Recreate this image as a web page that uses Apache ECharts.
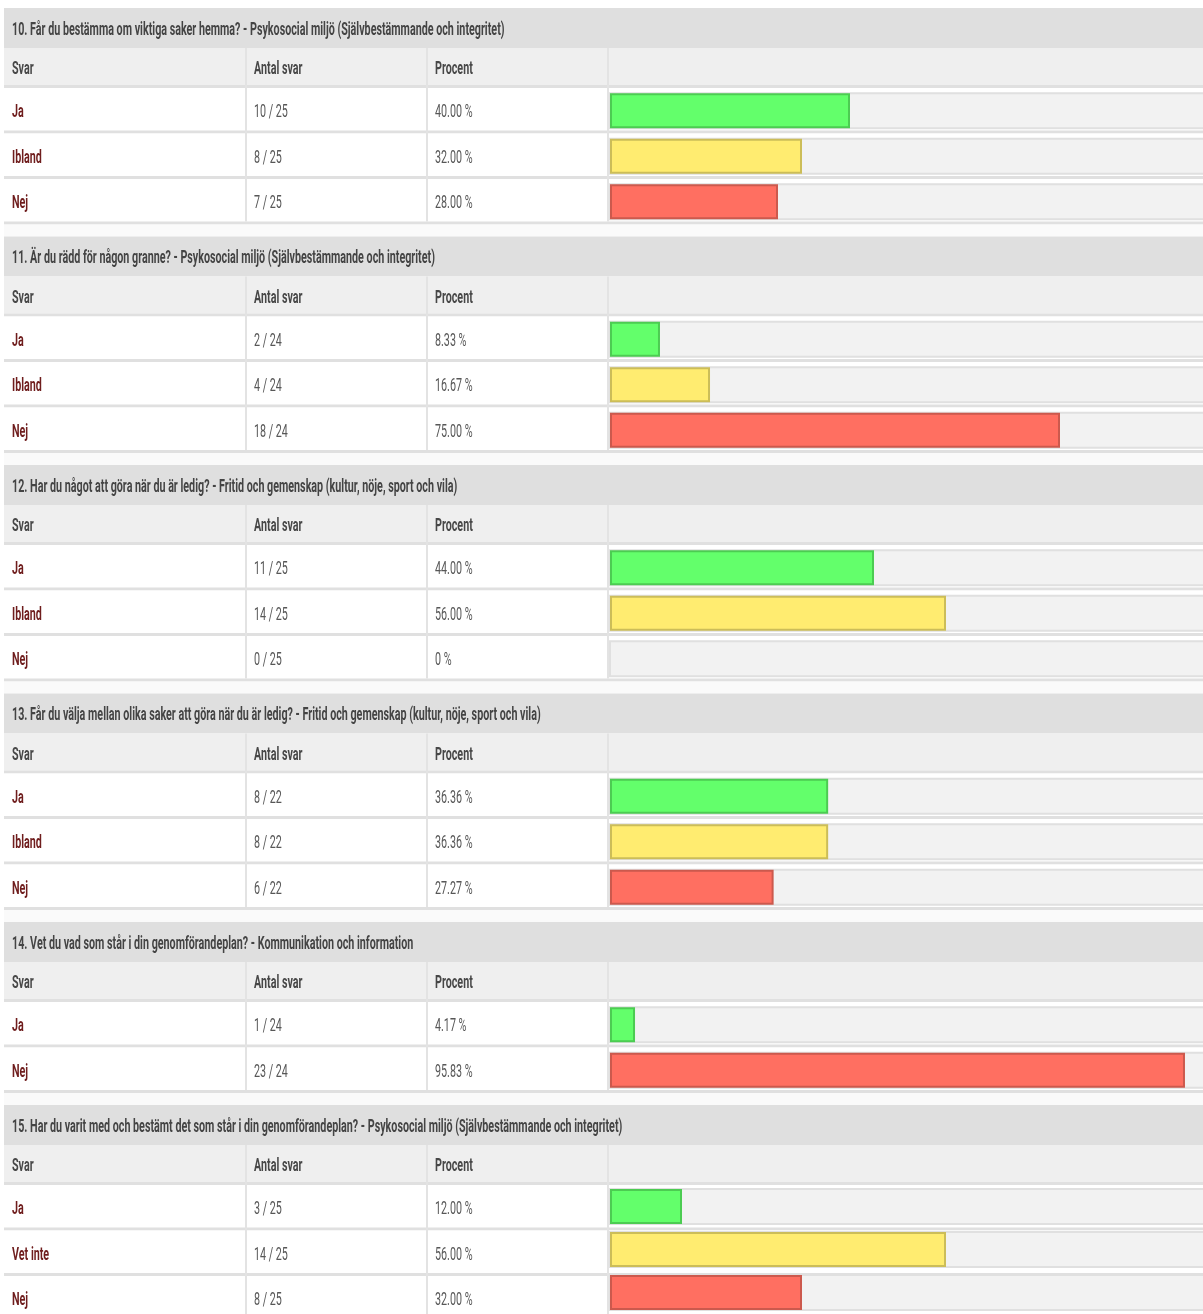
<!DOCTYPE html>
<html>
<head>
<meta charset="utf-8">
<script src="https://cdn.jsdelivr.net/npm/echarts@6/dist/echarts.min.js"></script>
<style>
html,body{margin:0;padding:0;background:#fff;overflow:hidden;}
#chart{width:1220px;height:1314px;}
</style>
</head>
<body>
<div id="chart"></div>
<script>
// ---- data ----
const columnHeaders = ["Svar", "Antal svar", "Procent"];

const titles = [
  "10. Får du bestämma om viktiga saker hemma? - Psykosocial miljö (Självbestämmande och integritet)",
  "11. Är du rädd för någon granne? - Psykosocial miljö (Självbestämmande och integritet)",
  "12. Har du något att göra när du är ledig? - Fritid och gemenskap (kultur, nöje, sport och vila)",
  "13. Får du välja mellan olika saker att göra när du är ledig? - Fritid och gemenskap (kultur, nöje, sport och vila)",
  "14. Vet du vad som står i din genomförandeplan? - Kommunikation och information",
  "15. Har du varit med och bestämt det som står i din genomförandeplan? - Psykosocial miljö (Självbestämmande och integritet)"
];

const q10Answers = ["Ja", "Ibland", "Nej"];
const q10Counts = [10, 8, 7];
const q10Total = 25;
const q10Percent = [40.00, 32.00, 28.00];

const q11Answers = ["Ja", "Ibland", "Nej"];
const q11Counts = [2, 4, 18];
const q11Total = 24;
const q11Percent = [8.33, 16.67, 75.00];

const q12Answers = ["Ja", "Ibland", "Nej"];
const q12Counts = [11, 14, 0];
const q12Total = 25;
const q12Percent = [44.00, 56.00, 0];

const q13Answers = ["Ja", "Ibland", "Nej"];
const q13Counts = [8, 8, 6];
const q13Total = 22;
const q13Percent = [36.36, 36.36, 27.27];

const q14Answers = ["Ja", "Nej"];
const q14Counts = [1, 23];
const q14Total = 24;
const q14Percent = [4.17, 95.83];

const q15Answers = ["Ja", "Vet inte", "Nej"];
const q15Counts = [3, 14, 8];
const q15Total = 25;
const q15Percent = [12.00, 56.00, 32.00];

// ---- styling ----
const FILL = {"Ja": "#63ff6b", "Ibland": "#ffec70", "Vet inte": "#ffec70", "Nej": "#ff6f61"};
const EDGE = {"Ja": "#4ccc52", "Ibland": "#ccbd58", "Vet inte": "#ccbd58", "Nej": "#cc594d"};

const sections = [
  [titles[0], q10Answers, q10Counts, q10Total, q10Percent],
  [titles[1], q11Answers, q11Counts, q11Total, q11Percent],
  [titles[2], q12Answers, q12Counts, q12Total, q12Percent],
  [titles[3], q13Answers, q13Counts, q13Total, q13Percent],
  [titles[4], q14Answers, q14Counts, q14Total, q14Percent],
  [titles[5], q15Answers, q15Counts, q15Total, q15Percent]
];

(function () {
  const FONT = "Roboto, 'Liberation Sans', sans-serif";
  const SX = 0.565;         // horizontal condensing of the text
  const FS = 19;
  const TABLE_X = 4, TABLE_W = 1216;
  const COL_X = [12, 254, 435];
  const DIV_X = [245, 426, 607];
  const TITLE_H = 40, HEAD_H = 37, SEP = 3, ROW = 45.5, GAP = 12;
  const BAR_LEFT = 610, BAR_FULL = 600;

  const graphics = [];
  const grids = [], xAxes = [], yAxes = [], series = [];

  function rect(x, y, w, h, fill, z) {
    graphics.push({type: 'rect', silent: true, z: z || 0, shape: {x: x, y: y, width: w, height: h}, style: {fill: fill}});
  }
  function text(x, y, str, color, weight) {
    graphics.push({type: 'text', silent: true, z: 5, x: x, y: y, scaleX: SX,
      style: {text: str, fill: color, fontSize: FS, fontFamily: FONT, fontWeight: weight, verticalAlign: 'middle', align: 'left'}});
  }

  let curTop = 8;
  sections.forEach(function (s, k) {
    const title = s[0], answers = s[1], counts = s[2], total = s[3], pct = s[4];
    const n = answers.length;
    const rowsTop = curTop + TITLE_H + HEAD_H + SEP;
    const end = rowsTop + n * ROW;

    rect(TABLE_X, curTop, TABLE_W, TITLE_H, '#dfdfdf');
    text(COL_X[0], curTop + TITLE_H / 2 + 2, title, '#444444', 'bold');
    rect(TABLE_X, curTop + TITLE_H, TABLE_W, HEAD_H, '#efefef');
    rect(TABLE_X, curTop + TITLE_H + HEAD_H, TABLE_W, SEP, '#e0e0e0');
    columnHeaders.forEach(function (h, c) {
      text(COL_X[c], curTop + TITLE_H + HEAD_H / 2 + 3, h, '#474747', 'bold');
    });
    answers.forEach(function (a, i) {
      const ry = rowsTop + i * ROW;
      rect(TABLE_X, ry, TABLE_W, ROW - SEP, '#ffffff');
      rect(TABLE_X, ry + ROW - SEP, TABLE_W, SEP, '#e0e0e0');
      const cy = ry + (ROW - SEP) / 2 + 3;
      text(COL_X[0], cy, a, '#6f1d1d', 'bold');
      text(COL_X[1], cy, counts[i] + ' / ' + total, '#575757', 'normal');
      text(COL_X[2], cy, (pct[i] === 0 ? '0' : pct[i].toFixed(2)) + ' %', '#575757', 'normal');
    });
    DIV_X.forEach(function (x) {
      rect(x, curTop + TITLE_H, 2, end - (curTop + TITLE_H) - SEP, '#e3e3e3', 1);
    });
    rect(TABLE_X, end, TABLE_W, GAP, '#fafafa');

    grids.push({left: BAR_LEFT, width: BAR_FULL, top: rowsTop, height: n * ROW, containLabel: false});
    xAxes.push({type: 'value', gridIndex: k, min: 0, max: 100, show: false});
    yAxes.push({type: 'category', gridIndex: k, data: answers, inverse: true, show: false});
    series.push({
      type: 'bar', xAxisIndex: k, yAxisIndex: k, barWidth: 35, silent: true, z: 3,
      showBackground: true,
      backgroundStyle: {color: '#f2f2f2', borderColor: '#e0e0e0', borderWidth: 2},
      data: pct.map(function (v, i) {
        return {value: v, itemStyle: {color: FILL[answers[i]], borderColor: EDGE[answers[i]], borderWidth: v === 0 ? 0 : 2}};
      })
    });

    curTop = end + GAP;
  });

  const chart = echarts.init(document.getElementById('chart'), null, {renderer: 'canvas'});
  chart.setOption({
    animation: false,
    backgroundColor: '#ffffff',
    graphic: {elements: graphics},
    grid: grids,
    xAxis: xAxes,
    yAxis: yAxes,
    series: series
  });
})();
</script>
</body>
</html>
